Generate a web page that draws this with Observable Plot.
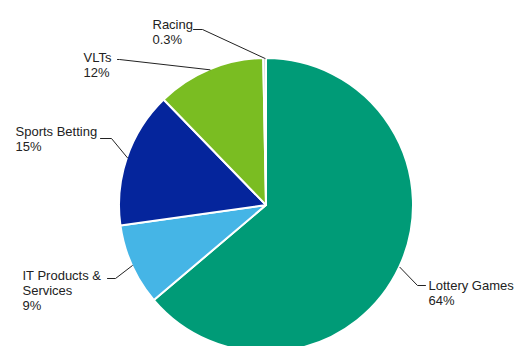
<!DOCTYPE html>
<html><head><meta charset="utf-8">
<script src="https://cdn.jsdelivr.net/npm/d3@7"></script>
<script src="https://cdn.jsdelivr.net/npm/@observablehq/plot@0.6"></script>
<style>body{margin:0;background:#fff}#chart{width:517px;height:346px;overflow:hidden}</style>
</head><body><div id="chart"></div>
<script>
// Data
const categories = ["Lottery Games", "IT Products &\nServices", "Sports Betting", "VLTs", "Racing"];
const shares = [64, 9, 15, 12, 0.3];
const shareLabels = ["64%", "9%", "15%", "12%", "0.3%"];
const colors = ["#009b77", "#45b5e6", "#05259c", "#7abd22", "#c9c9c9"];

// Layout (pixel space)
const W = 517, H = 346;
const center = {x: 266, y: 205};
const radius = 147;
// text left x, first baseline y, leader end x, elbow x, elbow y
const labelLayout = [
  {tx: 428, by: 288, endx: 425, elx: 417, ely: 285},
  {tx: 22,  by: 278, endx: 107, elx: 115, ely: 278},
  {tx: 15,  by: 134, endx: 100, elx: 111, ely: 138},
  {tx: 83,  by: 60,  endx: 117, elx: 119, ely: 59},
  {tx: 152, by: 27,  endx: 193, elx: 202, ely: 29}
];

const arcs = d3.pie().sort(null).value(d => d)(shares);

const labels = categories.map((c, i) => ({
  text: c + "\n" + shareLabels[i],
  x: labelLayout[i].tx,
  y: labelLayout[i].by - 9.3
}));

const leaders = [];
arcs.forEach((a, i) => {
  const m = (a.startAngle + a.endAngle) / 2;
  const L = labelLayout[i];
  leaders.push({k: i, x: L.endx, y: L.ely});
  leaders.push({k: i, x: L.elx, y: L.ely});
  leaders.push({k: i, x: center.x + radius * Math.sin(m), y: center.y - radius * Math.cos(m)});
});

function slices(index, scales) {
  const cx = scales.x(center.x), cy = scales.y(center.y);
  const r = scales.x(center.x + radius) - cx;
  const arc = d3.arc().innerRadius(0).outerRadius(r);
  const g = d3.create("svg:g");
  g.selectAll("path").data(arcs).join("path")
    .attr("transform", `translate(${cx},${cy})`)
    .attr("d", arc)
    .attr("fill", (d, i) => colors[i])
    .attr("stroke", "white")
    .attr("stroke-width", 2)
    .attr("stroke-linejoin", "round");
  return g.node();
}

const chart = Plot.plot({
  width: W, height: H,
  margin: 0,
  x: {domain: [0, W], range: [0, W], axis: null},
  y: {domain: [0, H], range: [0, H], axis: null},
  style: {fontFamily: "Arial, 'Liberation Sans', sans-serif", background: "white"},
  marks: [
    slices,
    Plot.line(leaders, {x: "x", y: "y", z: "k", stroke: "#222", strokeWidth: 1, curve: "linear"}),
    Plot.text(labels, {x: "x", y: "y", text: "text", textAnchor: "start", lineAnchor: "top", lineHeight: 1.16, fontSize: 13, fill: "#222"})
  ]
});
document.getElementById("chart").appendChild(chart);
</script>
</body></html>
